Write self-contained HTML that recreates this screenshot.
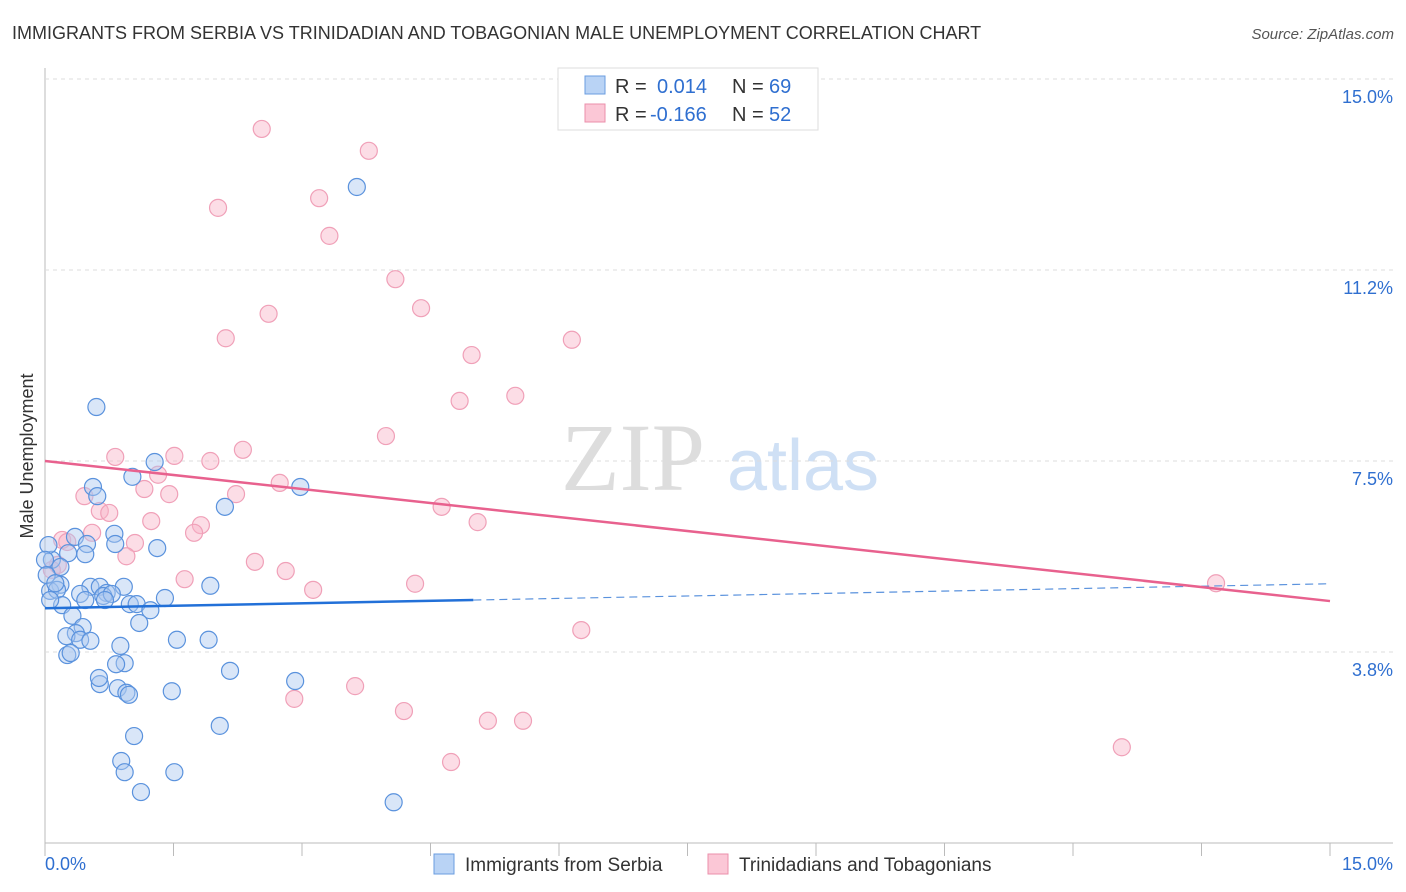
<!DOCTYPE html>
<html><head><meta charset="utf-8"><style>
body{margin:0;background:#fff;font-family:"Liberation Sans",sans-serif}
#wrap{position:relative;width:1406px;height:892px;overflow:hidden}
</style></head><body>
<div id="wrap">
<svg id="svg" width="1406" height="892" xmlns="http://www.w3.org/2000/svg">
<text x="12" y="39" font-size="18" fill="#333">IMMIGRANTS FROM SERBIA VS TRINIDADIAN AND TOBAGONIAN MALE UNEMPLOYMENT CORRELATION CHART</text>
<text x="1394" y="39" font-size="15" fill="#555" font-style="italic" text-anchor="end">Source: ZipAtlas.com</text>
<text x="33" y="456" font-size="18" fill="#333" text-anchor="middle" transform="rotate(-90 33 456)">Male Unemployment</text>
<text x="633" y="490" font-size="96" fill="#ddd" font-family="Liberation Serif,serif" text-anchor="middle">ZIP</text>
<text x="803" y="490" font-size="72" fill="#cfe0f5" text-anchor="middle">atlas</text>
<g id="grid"></g><g id="marks"></g>
<g>
<rect x="558" y="68" width="260" height="62" fill="#fff" stroke="#ddd"/>
<rect x="585" y="76" width="20" height="18" fill="#b9d3f5" stroke="#6a9de0"/>
<rect x="585" y="104" width="20" height="18" fill="#fbc7d6" stroke="#eb8fab"/>
<text x="615" y="93" font-size="20" fill="#333">R =</text><text x="657" y="93" font-size="20" fill="#2f6fd0">0.014</text>
<text x="732" y="93" font-size="20" fill="#333">N =</text><text x="769" y="93" font-size="20" fill="#2f6fd0">69</text>
<text x="615" y="121" font-size="20" fill="#333">R =</text><text x="650" y="121" font-size="20" fill="#2f6fd0">-0.166</text>
<text x="732" y="121" font-size="20" fill="#333">N =</text><text x="769" y="121" font-size="20" fill="#2f6fd0">52</text>
</g>
<g>
<rect x="434" y="854" width="20" height="20" fill="#b9d3f5" stroke="#6a9de0"/>
<text x="465" y="871" font-size="19" fill="#333">Immigrants from Serbia</text>
<rect x="708" y="854" width="20" height="20" fill="#fbc7d6" stroke="#eb8fab"/>
<text x="739" y="871" font-size="19" fill="#333">Trinidadians and Tobagonians</text>
</g>
</svg></div>
<script>
const yTicks=[3.75,7.5,11.25,15];
const yTickLabels=["3.8%","7.5%","11.2%","15.0%"];
const xTickLabels=["0.0%","15.0%"];
const serbiaPx=[[96,407],[357,187],[155,462],[132,477],[93,487],[97,496],[300,487],[225,507],[114,534],[115,544],[75,537],[87,544],[157,548],[68,553],[85,554],[52,560],[60,567],[48,545],[60,585],[50,591],[57,590],[90,587],[100,587],[107,593],[124,587],[210,586],[80,594],[103,596],[112,594],[130,604],[137,604],[165,598],[62,605],[72,616],[139,623],[83,627],[76,633],[66,636],[80,640],[90,641],[120,646],[177,640],[209,640],[67,655],[71,653],[125,663],[116,664],[230,671],[295,681],[100,684],[99,678],[118,688],[126,693],[129,695],[172,691],[220,726],[134,736],[121,761],[125,772],[174,772],[141,792],[394,802],[50,600],[45,560],[47,575],[55,583],[85,600],[105,600],[150,610]];
const trinPx=[[262,129],[369,151],[218,208],[319,198],[329,236],[395,279],[269,314],[421,308],[226,338],[572,340],[472,355],[515,396],[460,401],[386,436],[243,450],[115,457],[174,456],[210,461],[158,475],[144,489],[169,494],[84,496],[236,494],[280,483],[100,511],[109,513],[442,507],[478,522],[151,521],[201,525],[194,533],[92,533],[62,540],[67,542],[135,543],[126,556],[255,562],[58,565],[52,570],[185,579],[286,571],[313,590],[415,584],[1216,583],[581,630],[355,686],[294,699],[404,711],[488,721],[523,721],[451,762],[1122,747]];
// convert read pixel estimates into data values (percent)
const serbiaX=serbiaPx.map(p=>+((p[0]-45)*15/1285).toFixed(2));
const serbiaY=serbiaPx.map(p=>+((843-p[1])*15/764).toFixed(2));
const trinX=trinPx.map(p=>+((p[0]-45)*15/1285).toFixed(2));
const trinY=trinPx.map(p=>+((843-p[1])*15/764).toFixed(2));
const serbiaTrend=[4.61,5.09];
const trinTrend=[7.50,4.75];
const NS="http://www.w3.org/2000/svg";
const X=v=>45+v/15*1285, Y=v=>843-v/15*764;
function mk(t,a,p){const e=document.createElementNS(NS,t);for(const k in a)e.setAttribute(k,a[k]);p.appendChild(e);return e;}
const g=document.getElementById('grid'),m=document.getElementById('marks');
mk('line',{x1:45,y1:68,x2:45,y2:843,stroke:'#bbb'},g);
mk('line',{x1:45,y1:843,x2:1393,y2:843,stroke:'#bbb'},g);
for(let i=0;i<=10;i++){const x=X(i*1.5);mk('line',{x1:x,y1:843,x2:x,y2:856,stroke:'#bbb'},g);}
yTicks.forEach((v,i)=>{const l=mk('line',{x1:45,y1:Y(v),x2:1393,y2:Y(v),stroke:'#ddd','stroke-dasharray':'4,4'},g);

const t=mk('text',{x:1393,y:Y(v)+24,'font-size':18,fill:'#2f6fd0','text-anchor':'end'},g);t.textContent=yTickLabels[i];
});
const t0=mk('text',{x:45,y:870,'font-size':18,fill:'#2f6fd0'},g);t0.textContent=xTickLabels[0];

const t1=mk('text',{x:1393,y:870,'font-size':18,fill:'#2f6fd0','text-anchor':'end'},g);t1.textContent=xTickLabels[1];

trinX.forEach((x,i)=>{const c=mk('circle',{cx:X(x),cy:Y(trinY[i]),r:8.5,fill:'rgba(248,180,200,0.45)',stroke:'#f0a0b8','stroke-width':1.2},m);
});
serbiaX.forEach((x,i)=>{const c=mk('circle',{cx:X(x),cy:Y(serbiaY[i]),r:8.5,fill:'rgba(170,200,240,0.45)',stroke:'#5a92dd','stroke-width':1.2},m);
});
const bAt=x=>serbiaTrend[0]+(serbiaTrend[1]-serbiaTrend[0])*x/15;
let l=mk('line',{x1:X(0),y1:Y(bAt(0)),x2:X(5),y2:Y(bAt(5)),stroke:'#2270d8','stroke-width':2.5},m);

l=mk('line',{x1:X(5),y1:Y(bAt(5)),x2:X(15),y2:Y(bAt(15)),stroke:'#5a92dd','stroke-width':1.2,'stroke-dasharray':'8,5'},m);

l=mk('line',{x1:X(0),y1:Y(trinTrend[0]),x2:X(15),y2:Y(trinTrend[1]),stroke:'#e8618e','stroke-width':2.5},m);

</script>
</body></html>
